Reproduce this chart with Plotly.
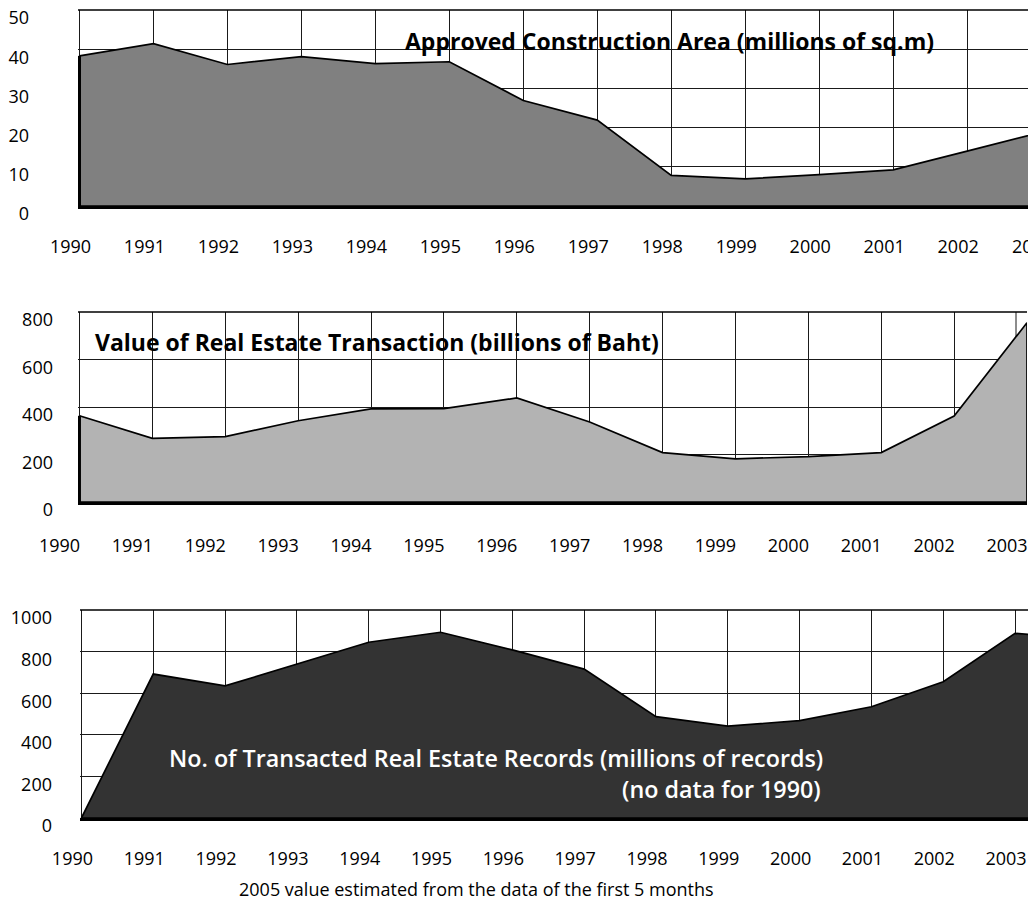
import plotly.graph_objects as go

# ---------------- data ----------------
years = list(range(1990, 2004))
year_labels = [str(y) for y in years]

# Approved Construction Area (millions of sq.m), 1990-2003
area_years = list(range(1990, 2004))
area_values = [38.3, 41.4, 36.1, 38.1, 36.3, 36.8, 26.9, 21.9, 7.8, 6.9, 8.0, 9.2, 14.0, 18.8]

# Value of Real Estate Transaction (billions of Baht), 1990-2003
value_years = list(range(1990, 2004))
value_values = [363, 268, 275, 342, 392, 393, 438, 337, 208, 182, 191, 208, 362, 755]

# No. of Transacted Real Estate Records, 1990-2004 (no data for 1990)
records_years = list(range(1990, 2005))
records_values = [0, 692, 635, 740, 845, 893, 808, 716, 487, 442, 468, 535, 655, 888, 858]

area_ticks = [0, 10, 20, 30, 40, 50]
value_ticks = [0, 200, 400, 600, 800]
records_ticks = [0, 200, 400, 600, 800, 1000]

titles = [
    "Approved Construction Area (millions of sq.m)",
    "Value of Real Estate Transaction (billions of Baht)",
    "No. of Transacted Real Estate Records (millions of records)",
    "(no data for 1990)",
]
footnote = "2005 value estimated from the data of the first 5 months"

# ---------------- layout helpers ----------------
PAGE_W, PAGE_H = 1036, 908
OFF = 8  # default page body margin
W, H = PAGE_W - OFF, PAGE_H - OFF
FONT = "Open Sans"


def px(x):
    return (x - OFF) / W


def py(y):
    return 1 - (y - OFF) / H


def xdom(l, r):
    return [px(l), px(r)]


def ydom(t, b):
    return [py(b), py(t)]


panels = [
    dict(x=area_years, y=area_values, ticks=area_ticks, fill="#808080",
         xd=xdom(78, 1030), yd=ydom(10, 206), xr=[1989.98, 2002.85], yr=[0, 50],
         xshift=-9, xstand=22, ystand=48, leftedge=True),
    dict(x=value_years, y=value_values, ticks=value_ticks, fill="#b3b3b3",
         xd=xdom(78, 1027), yd=ydom(312, 502), xr=[1989.98, 2003.0], yr=[0, 800],
         xshift=-20, xstand=25, ystand=24, leftedge=True),
    dict(x=records_years, y=records_values, ticks=records_ticks, fill="#333333",
         xd=xdom(80, 1028), yd=ydom(610, 818), xr=[1989.98, 2003.18], yr=[0, 1000],
         xshift=-9, xstand=22, ystand=27, leftedge=False),
]

fig = go.Figure()
layout = dict(
    width=W, height=H,
    margin=dict(l=0, r=0, t=0, b=0),
    paper_bgcolor="white", plot_bgcolor="white",
    showlegend=False,
    font=dict(family=FONT, size=18, color="black"),
)
shapes = []
annotations = []

for i, p in enumerate(panels, start=1):
    xa = "x" if i == 1 else f"x{i}"
    ya = "y" if i == 1 else f"y{i}"
    # closed polygon of the area
    polx = list(p["x"]) + [p["x"][-1], p["x"][0]]
    poly = list(p["y"]) + [0, 0]
    fig.add_trace(go.Scatter(
        x=polx, y=poly, mode="lines", fill="toself", fillcolor=p["fill"],
        line=dict(color="black", width=1.7), xaxis=xa, yaxis=ya,
        hoverinfo="skip",
    ))
    if p["leftedge"]:
        fig.add_trace(go.Scatter(
            x=[p["x"][0], p["x"][0]], y=[0, p["y"][0]], mode="lines",
            line=dict(color="black", width=3), xaxis=xa, yaxis=ya,
            hoverinfo="skip",
        ))
    layout["xaxis" if i == 1 else f"xaxis{i}"] = dict(
        domain=p["xd"], range=p["xr"], anchor=ya,
        tickmode="array", tickvals=years, ticktext=year_labels,
        showgrid=True, gridcolor="#1a1a1a", gridwidth=1,
        zeroline=False, showline=True, linecolor="black", linewidth=3,
        ticks="", ticklabelstandoff=p["xstand"], ticklabelshift=p["xshift"],
        ticklabeloverflow="allow",
        tickfont=dict(family=FONT, size=18, color="black"),
        automargin=False, fixedrange=True,
    )
    layout["yaxis" if i == 1 else f"yaxis{i}"] = dict(
        domain=p["yd"], range=p["yr"], anchor=xa,
        tickmode="array", tickvals=p["ticks"],
        showgrid=True, gridcolor="#1a1a1a", gridwidth=1,
        zeroline=False, showline=False, ticks="",
        ticklabelstandoff=p["ystand"], ticklabelshift=8,
        ticklabeloverflow="allow",
        tickfont=dict(family=FONT, size=18, color="black"),
        automargin=False, fixedrange=True,
    )
    # thin top border of the plot frame
    shapes.append(dict(type="line", xref=f"{xa} domain", yref=f"{ya} domain",
                       x0=0, x1=1, y0=1, y1=1, line=dict(color="black", width=1.3)))

# extra vertical rule near the right edge of the middle panel (as in the original)
shapes.append(dict(type="line", xref="x2 domain", yref="y2 domain", layer="below",
                   x0=(1016 - 78) / (1027 - 78), x1=(1016 - 78) / (1027 - 78), y0=0, y1=1,
                   line=dict(color="#1a1a1a", width=1)))

# 2003 label of the top panel, cut off by the page edge
p0 = panels[0]
annotations.append(dict(
    text=year_labels[-1], xref="x domain", yref="paper",
    x=(years[-1] - p0["xr"][0]) / (p0["xr"][1] - p0["xr"][0]), xshift=-9,
    y=py(246), xanchor="center", yanchor="middle", showarrow=False,
    font=dict(family=FONT, size=18, color="black"),
))

annotations += [
    dict(text=titles[0], xref="paper", yref="paper", x=px(669), y=py(41),
         xanchor="center", yanchor="middle", showarrow=False,
         font=dict(family=FONT, size=23, color="black", weight="bold")),
    dict(text=titles[1], xref="paper", yref="paper", x=px(377), y=py(342),
         xanchor="center", yanchor="middle", showarrow=False,
         font=dict(family=FONT, size=23, color="black", weight="bold")),
    dict(text=titles[2], xref="paper", yref="paper", x=px(825), y=py(758),
         xanchor="right", yanchor="middle", showarrow=False,
         font=dict(family=FONT, size=23.3, color="white", weight=600)),
    dict(text=titles[3], xref="paper", yref="paper", x=px(823), y=py(789),
         xanchor="right", yanchor="middle", showarrow=False,
         font=dict(family=FONT, size=23.3, color="white", weight=600)),
    dict(text=footnote, xref="paper", yref="paper", x=px(476), y=py(889),
         xanchor="center", yanchor="middle", showarrow=False,
         font=dict(family=FONT, size=18, color="black")),
]

layout["shapes"] = shapes
layout["annotations"] = annotations
fig.update_layout(**layout)
fig.write_html("out.html")
